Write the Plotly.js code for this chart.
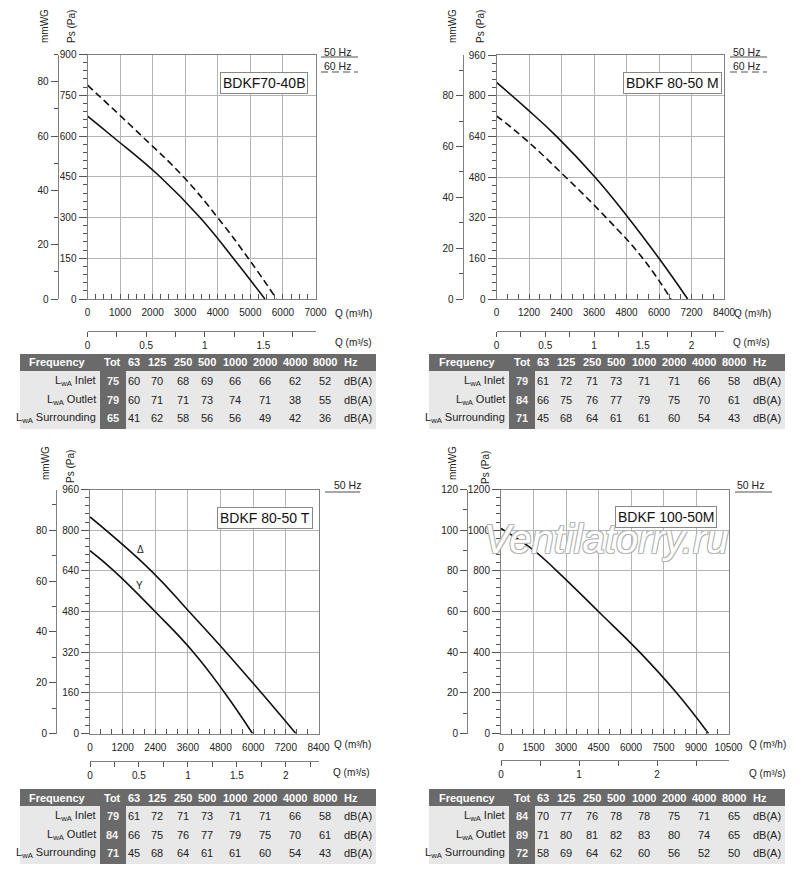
<!DOCTYPE html>
<html>
<head>
<meta charset="utf-8">
<script src="https://cdn.plot.ly/plotly-3.0.1.min.js"></script>
<style>html,body{margin:0;padding:0;background:#fff}</style>
</head>
<body>
<div id="chart" style="width:800px;height:879px"></div>
<script>
// fan curves, Q in m3/h, Ps in Pa (read where the curves cross the grid)
const qA50 = [0, 746, 2228, 3454, 4476, 5447];
const psA50 = [673, 600, 450, 300, 150, 0];
const qA60 = [0, 1666, 2943, 3995, 4936, 5804];
const psA60 = [787, 600, 450, 300, 150, 0];

const qB50 = [0, 1100, 2217, 3633, 4865, 5998, 7058];
const psB50 = [852, 750, 640, 480, 320, 160, 0];
const qB60 = [0, 940, 2550, 4050, 5400, 6440];
const psB60 = [720, 640, 480, 320, 160, 0];

const qCDelta = [0, 2250, 3640, 5000, 6300, 7566];
const psCDelta = [852, 640, 480, 320, 160, 0];
const qCStar = [0, 880, 2391, 3800, 4950, 5972];
const psCStar = [719, 640, 480, 320, 160, 0];

const qD50 = [0, 1500, 2571, 4496, 6400, 8100, 9576];
const psD50 = [1008, 902, 800, 600, 400, 200, 0];

// sound power tables
const bands = ['63', '125', '250', '500', '1000', '2000', '4000', '8000'];
const rowNames = ['Inlet', 'Outlet', 'Surrounding'];
const totA = [75, 79, 65];
const lwA = [[60, 70, 68, 69, 66, 66, 62, 52], [60, 71, 71, 73, 74, 71, 38, 55], [41, 62, 58, 56, 56, 49, 42, 36]];
const totB = [79, 84, 71];
const lwB = [[61, 72, 71, 73, 71, 71, 66, 58], [66, 75, 76, 77, 79, 75, 70, 61], [45, 68, 64, 61, 61, 60, 54, 43]];
const totC = [79, 84, 71];
const lwC = [[61, 72, 71, 73, 71, 71, 66, 58], [66, 75, 76, 77, 79, 75, 70, 61], [45, 68, 64, 61, 61, 60, 54, 43]];
const totD = [84, 89, 72];
const lwD = [[70, 77, 76, 78, 78, 75, 71, 65], [71, 80, 81, 82, 83, 80, 74, 65], [58, 69, 64, 62, 60, 56, 52, 50]];

const W = 800, H = 879;
const px = v => v / W;
const py = v => 1 - v / H;
const FONT = 'Liberation Sans, Arial, Helvetica, sans-serif';
const INK = '#222';
const GRID = '#b4b4b4';
const AXIS = '#808080';
const DARK = '#6a6a6a';

const panels = [
    {name: 'BDKF70-40B', box: [263.5, 83], left: 87.5, right: 315.5, top: 54.5, bottom: 299, mm: 57.5, sLine: 331,
     qMax: 7000, qTick: 1000, qMinor: 250, psMax: 900, psTick: 150, sTick: 0.5, sMinor: 0.25,
     mmTitle: [45, 26], psTitle: [71, 27], qh: [333, 313], qs: [333, 342],
     legend: [{text: '50 Hz', x: 322, y: 52, line: [321, 358, 57], dash: 'solid'},
              {text: '60 Hz', x: 322, y: 66, line: [321, 358, 72], dash: 'dash'}],
     curves: [{q: qA50, ps: psA50, dash: 'solid'}, {q: qA60, ps: psA60, dash: 'dash'}]},
    {name: 'BDKF 80-50 M', box: [672, 83], left: 496.5, right: 724, top: 55, bottom: 299, mm: 462.5, sLine: 331,
     qMax: 8400, qTick: 1200, qMinor: 400, psMax: 960, psTick: 160, sTick: 0.5, sMinor: 0.25,
     mmTitle: [453, 26], psTitle: [480, 27], qh: [732, 313], qs: [731, 342],
     legend: [{text: '50 Hz', x: 731, y: 52, line: [730, 767, 57], dash: 'solid'},
              {text: '60 Hz', x: 731, y: 66, line: [730, 767, 72], dash: 'dash'}],
     curves: [{q: qB50, ps: psB50, dash: 'solid'}, {q: qB60, ps: psB60, dash: 'dash'}]},
    {name: 'BDKF 80-50 T', box: [265, 517.5], left: 90, right: 318.5, top: 489.5, bottom: 733.5, mm: 56, sLine: 761,
     qMax: 8400, qTick: 1200, qMinor: 400, psMax: 960, psTick: 160, sTick: 0.5, sMinor: 0.25,
     mmTitle: [45, 463], psTitle: [70, 467], qh: [332, 744], qs: [331, 772],
     legend: [{text: '50 Hz', x: 332, y: 485, line: [325, 360, 492], dash: 'solid'}],
     curves: [{q: qCDelta, ps: psCDelta, dash: 'solid'}, {q: qCStar, ps: psCStar, dash: 'solid'}],
     marks: [{text: 'Δ', q: 1839, ps: 724}, {text: 'Y', q: 1815, ps: 581}]},
    {name: 'BDKF 100-50M', box: [666, 517], left: 501, right: 728.5, top: 489.5, bottom: 733.5, mm: 467, sLine: 760,
     qMax: 10500, qTick: 1500, qMinor: 500, psMax: 1200, psTick: 200, sTick: 1, sMinor: 0.5,
     mmTitle: [452, 463], psTitle: [485, 467], qh: [747, 744], qs: [747, 773],
     legend: [{text: '50 Hz', x: 735, y: 485, line: [735, 772, 492], dash: 'solid'}],
     curves: [{q: qD50, ps: psD50, dash: 'solid'}]}
];

const tables = [
    {left: 20, top: 354, tot: totA, vals: lwA},
    {left: 429, top: 354, tot: totB, vals: lwB},
    {left: 20, top: 789, tot: totC, vals: lwC},
    {left: 429, top: 789, tot: totD, vals: lwD}
];
// column layout, relative to table left / top
const tableWidth = 356;
const labelRight = 78;
const totCol = [80, 106];
const bandCenter = [114, 137, 163, 187, 215, 244.5, 274.5, 305];
const unitLeft = 322;
const headerH = 17;
const bodyBottom = 75;
const rowY = [27, 45.5, 64];

const traces = [];
const layout = {
    width: W, height: H,
    margin: {l: 0, r: 0, t: 0, b: 0},
    paper_bgcolor: '#fff',
    plot_bgcolor: '#fff',
    showlegend: false,
    font: {family: FONT, size: 10, color: INK},
    annotations: [],
    shapes: []
};

function note(text, x, y, opts) {
    layout.annotations.push(Object.assign({
        text: text, x: px(x), y: py(y), xref: 'paper', yref: 'paper',
        xanchor: 'left', yanchor: 'middle', showarrow: false,
        font: {family: FONT, size: 10, color: INK}
    }, opts || {}));
}

panels.forEach((p, i) => {
    const n = i + 1, m = i + 5;
    const tickFont = {family: FONT, size: 10, color: INK};

    layout['xaxis' + n] = {
        domain: [px(p.left), px(p.right)], anchor: 'y' + n,
        range: [0, p.qMax], dtick: p.qTick, tick0: 0, tickformat: 'd',
        ticks: 'inside', ticklen: 5, tickcolor: '#555',
        minor: {dtick: p.qMinor, ticks: 'inside', ticklen: 5, tickcolor: '#555'},
        showgrid: true, gridcolor: GRID, gridwidth: 1,
        showline: true, linecolor: AXIS, mirror: true, zeroline: false,
        tickfont: tickFont, ticklabelstandoff: 4
    };
    layout['yaxis' + n] = {
        domain: [py(p.bottom), py(p.top)], anchor: 'x' + n,
        range: [0, p.psMax], dtick: p.psTick, tick0: 0, tickformat: 'd',
        ticks: 'outside', ticklen: 8, tickcolor: '#555',
        minor: {dtick: p.psTick / 5, ticks: 'outside', ticklen: 4, tickcolor: '#555'},
        showgrid: true, gridcolor: GRID, gridwidth: 1,
        showline: true, linecolor: AXIS, mirror: true, zeroline: false,
        tickfont: tickFont
    };
    // flow in m3/s under the plot
    layout['xaxis' + m] = {
        overlaying: 'x' + n, anchor: 'free', position: py(p.sLine), side: 'bottom',
        range: [0, p.qMax / 3600], dtick: p.sTick, tick0: 0,
        ticks: 'outside', ticklen: 5, tickcolor: '#555',
        minor: {dtick: p.sMinor, ticks: 'outside', ticklen: 5, tickcolor: '#555'},
        showgrid: false, zeroline: false, showline: true, linecolor: AXIS,
        tickfont: tickFont
    };
    // pressure in mmWG left of the Pa axis
    layout['yaxis' + m] = {
        overlaying: 'y' + n, anchor: 'free', position: px(p.mm), side: 'left',
        range: [0, p.psMax / 10], dtick: 20, tick0: 0,
        ticks: 'outside', ticklen: 7, tickcolor: '#555',
        minor: {dtick: 10, ticks: 'outside', ticklen: 4, tickcolor: '#555'},
        showgrid: false, zeroline: false, showline: true, linecolor: AXIS,
        tickfont: tickFont
    };

    p.curves.forEach(c => {
        traces.push({
            type: 'scatter', mode: 'lines', x: c.q, y: c.ps,
            xaxis: 'x' + n, yaxis: 'y' + n, hoverinfo: 'skip',
            line: {color: '#111', width: 1.6, shape: 'spline', smoothing: 1.3,
                   dash: c.dash === 'dash' ? '7px,4px' : 'solid'}
        });
    });
    // same curve in the secondary units, not drawn, keeps the extra axes alive
    traces.push({
        type: 'scatter', mode: 'lines', hoverinfo: 'skip',
        x: p.curves[0].q.map(v => v / 3600), y: p.curves[0].ps.map(v => v / 10),
        xaxis: 'x' + m, yaxis: 'y' + m, line: {color: 'rgba(0,0,0,0)', width: 0}
    });

    note('mmWG', p.mmTitle[0], p.mmTitle[1], {xanchor: 'center', textangle: -90});
    note('Ps (Pa)', p.psTitle[0], p.psTitle[1], {xanchor: 'center', textangle: -90});
    note('Q (m³/h)', p.qh[0], p.qh[1]);
    note('Q (m³/s)', p.qs[0], p.qs[1]);

    p.legend.forEach(l => {
        note(l.text, l.x, l.y, {font: {family: FONT, size: 10.5, color: INK}});
        layout.shapes.push({
            type: 'line', xref: 'paper', yref: 'paper',
            x0: px(l.line[0]), x1: px(l.line[1]), y0: py(l.line[2]), y1: py(l.line[2]),
            line: {color: '#8a8a8a', width: 1.3, dash: l.dash === 'dash' ? '7px,4px' : 'solid'}
        });
    });

    note(p.name, p.box[0], p.box[1], {
        xanchor: 'center', bgcolor: '#fff', bordercolor: '#888', borderwidth: 1, borderpad: 2,
        font: {family: FONT, size: 14, color: '#111'}
    });

    (p.marks || []).forEach(mk => {
        layout.annotations.push({
            text: mk.text, x: mk.q, y: mk.ps, xref: 'x' + n, yref: 'y' + n,
            showarrow: false, font: {family: FONT, size: 10, color: INK}
        });
    });
});

// watermark
note('Ventilatorry.ru', 606, 539, {
    xanchor: 'center',
    font: {family: FONT, size: 40, color: '#ffffff', style: 'italic',
           shadow: '1px 1px 0 #b4b4b4, -1px -1px 0 #b4b4b4, 1px -1px 0 #b4b4b4, -1px 1px 0 #b4b4b4'}
});

function rect(x0, y0, x1, y1, color) {
    layout.shapes.push({
        type: 'rect', xref: 'paper', yref: 'paper', layer: 'below',
        x0: px(x0), x1: px(x1), y0: py(y1), y1: py(y0),
        fillcolor: color, line: {width: 0}
    });
}

tables.forEach(t => {
    const L = t.left, T = t.top;
    const head = {family: FONT, size: 11, color: '#fff'};
    const body = {family: FONT, size: 11, color: INK};
    const totX = L + (totCol[0] + totCol[1]) / 2;
    const hy = T + headerH / 2;

    rect(L, T, L + tableWidth, T + headerH, DARK);
    rect(L, T + headerH, L + tableWidth, T + bodyBottom, '#e8e8e8');
    rect(L + totCol[0], T + headerH, L + totCol[1], T + bodyBottom, DARK);

    note('<b>Frequency</b>', L + 38, hy, {xanchor: 'center', font: head});
    note('<b>Tot</b>', totX, hy, {xanchor: 'center', font: head});
    bands.forEach((b, j) => note('<b>' + b + '</b>', L + bandCenter[j], hy, {xanchor: 'center', font: head}));
    note('<b>Hz</b>', L + unitLeft, hy, {font: head});

    rowNames.forEach((r, k) => {
        const y = T + rowY[k];
        note('L<sub>wA</sub> ' + r, L + labelRight, y, {xanchor: 'right', font: body});
        note('<b>' + t.tot[k] + '</b>', totX, y, {xanchor: 'center', font: {family: FONT, size: 11, color: '#f4f4f4'}});
        t.vals[k].forEach((v, j) => note(String(v), L + bandCenter[j], y, {xanchor: 'center', font: body}));
        note('dB(A)', L + unitLeft, y, {font: body});
    });
});

Plotly.newPlot('chart', traces, layout, {staticPlot: true, displayModeBar: false});
</script>
</body>
</html>
